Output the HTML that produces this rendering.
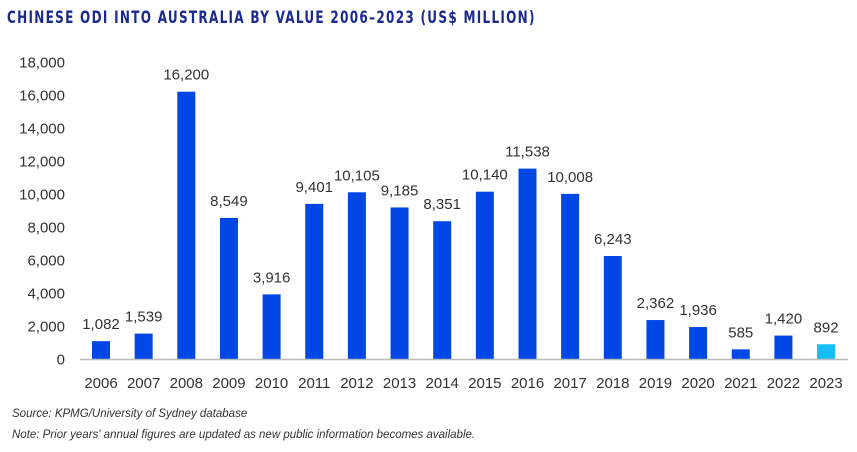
<!DOCTYPE html>
<html><head><meta charset="utf-8"><style>
body{margin:0;background:#fff;width:857px;height:452px;overflow:hidden;font-family:"Liberation Sans",sans-serif}
.title{position:absolute;left:7px;top:8px;font-family:"DejaVu Sans Condensed","Liberation Sans Narrow","Liberation Sans",sans-serif;font-weight:bold;font-size:16.5px;letter-spacing:1.6px;color:#1b2a8e;transform:scaleX(0.81);transform-origin:left top;white-space:nowrap}
.note{position:absolute;left:12px;font-size:11.5px;font-style:italic;color:#333}
</style></head><body>
<div class="title">CHINESE ODI INTO AUSTRALIA BY VALUE 2006–2023 (US$ MILLION)</div>
<svg id="c" width="857" height="452" style="position:absolute;left:0;top:0"></svg>
<div class="note" style="top:408px">Source: KPMG/University of Sydney database</div>
<div class="note" style="top:429px">Note: Prior years' annual figures are updated as new public information becomes available.</div>
<script>
const years=["2006","2007","2008","2009","2010","2011","2012","2013","2014","2015","2016","2017","2018","2019","2020","2021","2022","2023"];
const values=[1082,1539,16200,8549,3916,9401,10105,9185,8351,10140,11538,10008,6243,2362,1936,585,1420,892];
const ticks=[0,2000,4000,6000,8000,10000,12000,14000,16000,18000];
const svg=document.getElementById('c');const NS='http://www.w3.org/2000/svg';
function y(v){return 359-v*(297/18000);}
function x(i){return 101+i*42.65;}
function mk(t,a,txt){const e=document.createElementNS(NS,t);for(const k in a)e.setAttribute(k,a[k]);if(txt!==undefined)e.textContent=txt;svg.appendChild(e);return e;}
ticks.forEach(t=>{const e=mk('text',{x:65,y:y(t)+5.5,'text-anchor':'end','font-size':15,fill:'#333'},t.toLocaleString('en-US'));

});
values.forEach((v,i)=>{const last=i===values.length-1;
const r=mk('rect',{x:x(i)-9,y:y(v),width:18,height:359-y(v),fill:last?'#17bef5':'#0047e6'});


const l=mk('text',{x:x(i),y:y(v)-12,'text-anchor':'middle','font-size':15,fill:'#333'},v.toLocaleString('en-US'));


const yl=mk('text',{x:x(i),y:388,'text-anchor':'middle','font-size':15,fill:'#333'},years[i]);

});
const ax=mk('line',{x1:80,x2:848,y1:359.5,y2:359.5,stroke:'#bbb','stroke-width':1.5});


</script>
</body></html>
